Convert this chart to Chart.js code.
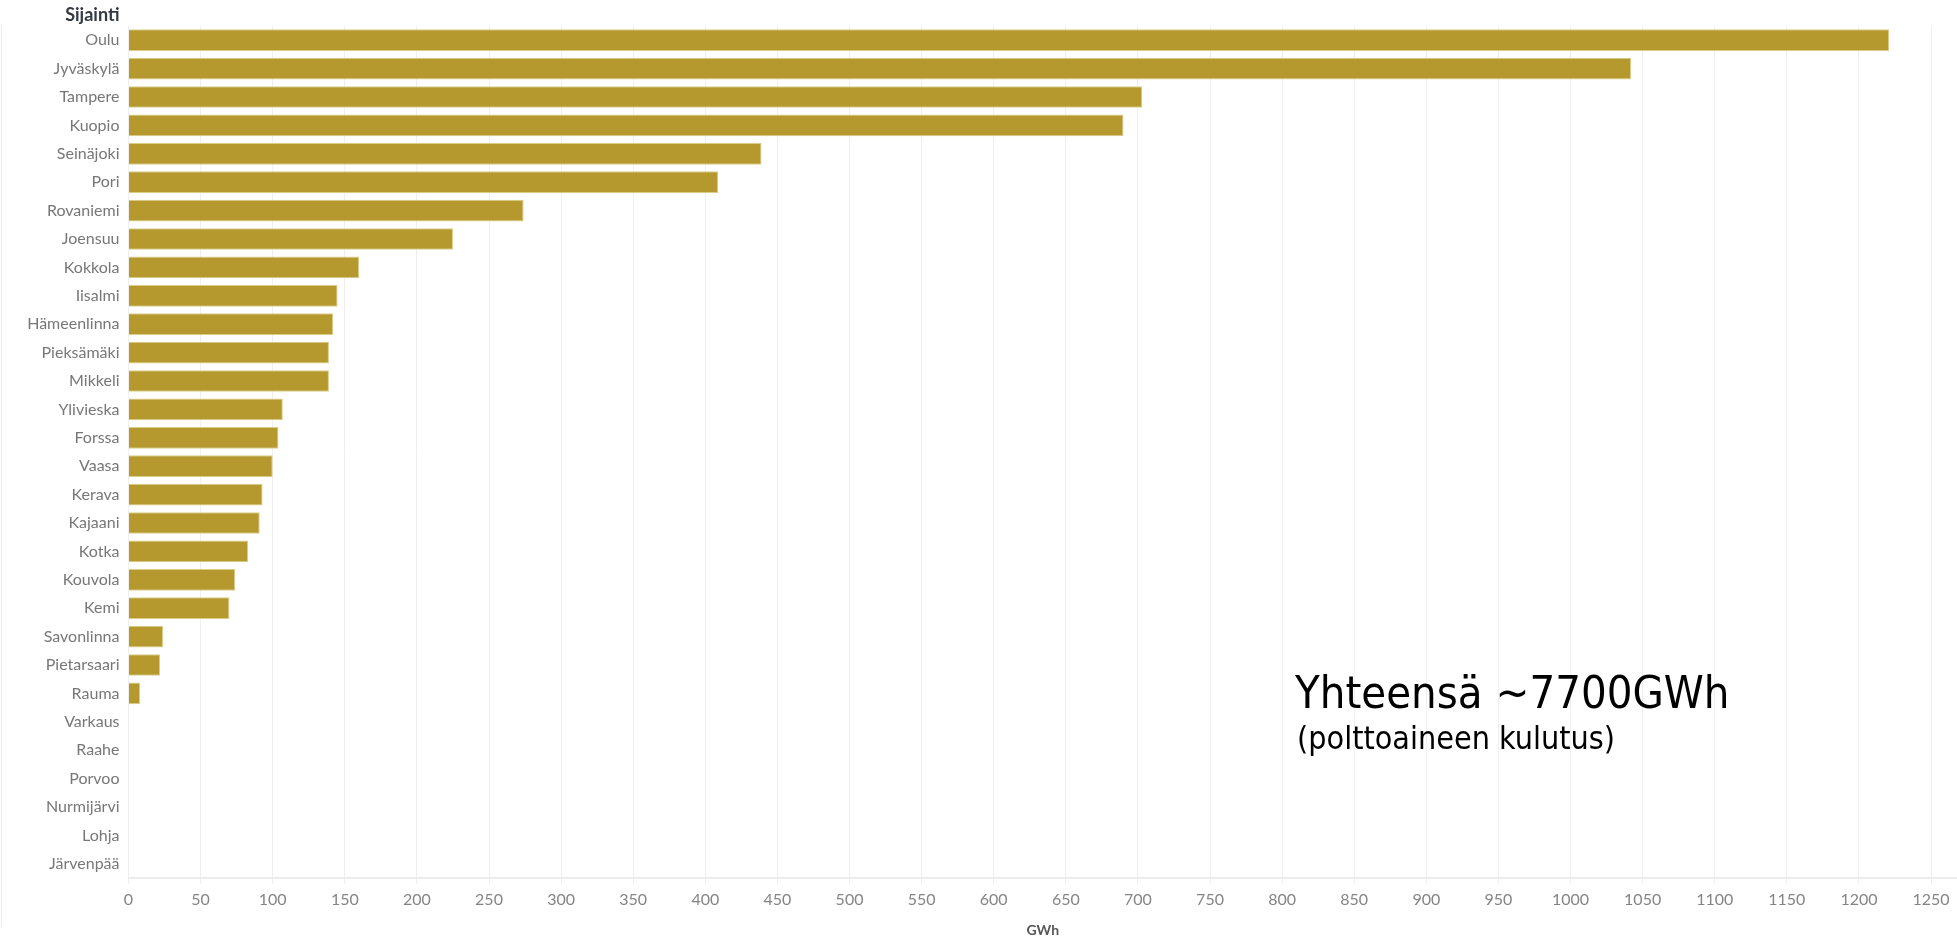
<!DOCTYPE html>
<html>
<head>
<meta charset="utf-8">
<script src="https://cdn.jsdelivr.net/npm/chart.js@4.4.1/dist/chart.umd.min.js"></script>
<style>
  html, body { margin: 0; padding: 0; background: #fff; }
  #wrap { position: relative; width: 1957px; height: 944px; }
</style>
</head>
<body>
<div id="wrap"><canvas id="fuelChart"></canvas></div>
<script>
const locations = [
  "Oulu", "Jyväskylä", "Tampere", "Kuopio", "Seinäjoki", "Pori", "Rovaniemi",
  "Joensuu", "Kokkola", "Iisalmi", "Hämeenlinna", "Pieksämäki", "Mikkeli",
  "Ylivieska", "Forssa", "Vaasa", "Kerava", "Kajaani", "Kotka", "Kouvola",
  "Kemi", "Savonlinna", "Pietarsaari", "Rauma", "Varkaus", "Raahe", "Porvoo",
  "Nurmijärvi", "Lohja", "Järvenpää"
];

const gwhValues = [
  1221, 1042, 703, 690, 439, 409, 274,
  225, 160, 145, 142, 139, 139,
  107, 104, 100, 93, 91, 83, 74,
  70, 24, 22, 8, 0, 0, 0,
  0, 0, 0
];

const xTickValues = [0, 50, 100, 150, 200, 250, 300, 350, 400, 450, 500, 550, 600,
  650, 700, 750, 800, 850, 900, 950, 1000, 1050, 1100, 1150, 1200, 1250];

const axisTitle = "GWh";
const rowHeader = "Sijainti";
const totalText = "Yhteensä ~7700GWh";
const totalNote = "(polttoaineen kulutus)";

const barColor = "#b5992f";
const barEdge = "#dccd86";

// header above the labels, total note and pane border
const extrasPlugin = {
  id: "extras",
  afterDraw(chart) {
    const ctx = chart.ctx;
    const y = chart.scales.y;
    ctx.save();

    ctx.strokeStyle = "#ececec";
    ctx.lineWidth = 1;
    ctx.beginPath();
    ctx.moveTo(1.5, 25);
    ctx.lineTo(1.5, 927);
    ctx.stroke();

    ctx.fillStyle = "#333a44";
    ctx.font = "bold 18px Lato";
    ctx.textAlign = "right";
    ctx.textBaseline = "middle";
    ctx.fillText(rowHeader, y.right - 9, 15);

    ctx.fillStyle = "#000";
    ctx.textAlign = "left";
    ctx.textBaseline = "alphabetic";
    ctx.font = "45px 'DejaVu Sans Condensed', 'DejaVu Sans'";
    ctx.fillText(totalText, 1295, 708);
    ctx.font = "32px 'DejaVu Sans Condensed', 'DejaVu Sans'";
    ctx.fillText(totalNote, 1297, 749);
    ctx.restore();
  }
};

function renderChart() {
  const ctx = document.getElementById("fuelChart").getContext("2d");

  new Chart(ctx, {
    type: "bar",
    data: {
      labels: locations,
      datasets: [
        {
          data: gwhValues,
          backgroundColor: barColor,
          borderColor: barEdge,
          borderWidth: 1,
          barPercentage: 0.765,
          categoryPercentage: 1
        }
      ]
    },
    options: {
      indexAxis: "y",
      responsive: true,
      maintainAspectRatio: false,
      animation: false,
      layout: { padding: { top: 26, left: 0, right: 0, bottom: 0 } },
      plugins: {
        legend: { display: false },
        tooltip: { enabled: false }
      },
      scales: {
        x: {
          min: 0,
          max: 1268,
          afterBuildTicks: scale => {
            scale.ticks = xTickValues.map(v => ({ value: v }));
          },
          afterFit: scale => {
            scale.height = 66;
            scale.paddingLeft = 0;
            scale.paddingRight = 0;
          },
          grid: {
            color: "#efefef",
            lineWidth: 1,
            drawTicks: true,
            tickLength: 6,
            tickColor: "#efefef"
          },
          border: { color: "#ececec", width: 2 },
          ticks: {
            color: "#858585",
            font: { family: "Lato", size: 16 },
            padding: 6,
            maxRotation: 0,
            callback: value => String(value)
          },
          title: {
            display: true,
            text: axisTitle,
            color: "#555",
            font: { family: "Lato", size: 14, weight: "bold" },
            padding: { top: 2, bottom: 5 }
          }
        },
        y: {
          afterFit: scale => {
            scale.width = 128.5;
            scale.paddingTop = 0;
            scale.paddingBottom = 0;
          },
          grid: { display: false, drawTicks: false },
          border: { display: false },
          ticks: {
            color: "#777",
            font: { family: "Lato", size: 16 },
            padding: 9,
            autoSkip: false
          }
        }
      }
    },
    plugins: [extrasPlugin]
  });
}

document.addEventListener("DOMContentLoaded", renderChart);
</script>
</body>
</html>
